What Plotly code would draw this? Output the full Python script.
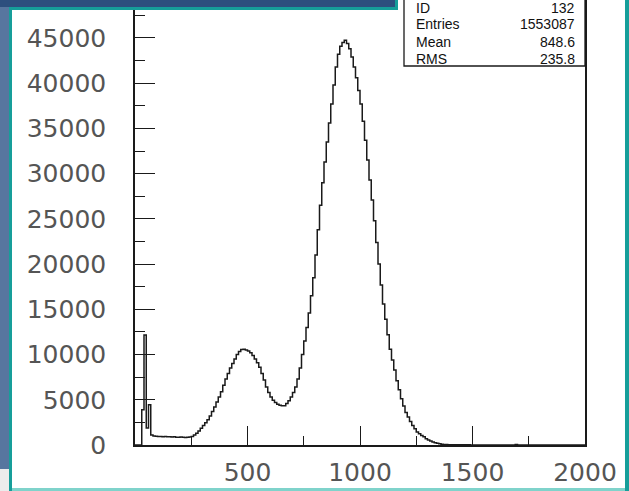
import plotly.graph_objects as go

# ---------------- data ----------------
bin_width = 10
x_min, x_max = 0, 2000
counts = [
    0, 0, 0, 3900, 12170, 1880, 4450, 1100, 1000, 960,
    950, 930, 920, 930, 900, 900, 880, 900, 870, 860,
    880, 860, 840, 860, 880, 950, 1100, 1300, 1550, 1850,
    2150, 2450, 2800, 3200, 3700, 4200, 4750, 5300, 5900, 6600,
    7300, 7900, 8500, 9000, 9500, 10000, 10350, 10550, 10600, 10500,
    10400, 10200, 9900, 9500, 9100, 8600, 7900, 7200, 6400, 5800,
    5300, 4950, 4700, 4500, 4400, 4350, 4350, 4600, 4900, 5300,
    5800, 6400, 7300, 8500, 10000, 11500, 13000, 14600, 16500, 18500,
    21000, 23800, 26500, 29000, 31300, 33500, 35600, 37700, 39800, 41800,
    43200, 44100, 44500, 44750, 44400, 43800, 42900, 41800, 40600, 39200,
    37700, 35800, 33700, 31500, 29300, 27100, 24800, 22400, 20000, 17700,
    15600, 13900, 12200, 10600, 9400, 8300, 7100, 6100, 5100, 4300,
    3600, 3100, 2600, 2150, 1800, 1450, 1250, 1050, 900, 700,
    550, 430, 330, 250, 180, 130, 90, 60, 45, 40,
    35, 35, 30, 35, 30, 30, 35, 30, 25, 0,
    0, 0, 0, 0, 0, 0, 0, 0, 0, 0,
    0, 0, 0, 0, 0, 0, 0, 0, 0, 60,
    0, 0, 0, 0, 0, 0, 0, 0, 0, 0,
    0, 0, 0, 0, 0, 0, 0, 0, 0, 0,
    0, 0, 0, 0, 0, 0, 0, 0, 0, 0,
]
x_tick_vals = [0, 500, 1000, 1500, 2000]
x_tick_text = ["", "500", "1000", "1500", "2000"]
y_tick_vals = [0, 5000, 10000, 15000, 20000, 25000, 30000, 35000, 40000, 45000]
y_tick_text = ["0", "5000", "10000", "15000", "20000", "25000", "30000", "35000", "40000", "45000"]
y_max = 49200
stats_labels = ["ID", "Entries", "Mean", "RMS"]
stats_values = ["132", "1553087", "848.6", "235.8"]

# ---------------- geometry ----------------
FW, FH = 629, 491
L, R, T, B = 135, 44, 0, 46
PW, PH = FW - L - R, FH - T - B


def px(p):
    return (p - L) / PW


def py(p):
    return 1 - (p - T) / PH


edges = [x_min + i * bin_width for i in range(len(counts) + 1)]
xs = edges
ys = counts + [counts[-1]]

fig = go.Figure()
fig.add_trace(go.Scatter(
    x=xs, y=ys, mode="lines", line=dict(shape="hv", color="#1a1a1a", width=1.5),
    hoverinfo="skip", showlegend=False,
))

tick_font = dict(family="DejaVu Sans", size=25, color="#555555")

fig.update_layout(
    width=FW, height=FH,
    margin=dict(l=L, r=R, t=T, b=B, pad=0),
    paper_bgcolor="white", plot_bgcolor="white",
    xaxis=dict(
        range=[x_min, x_max], showgrid=False, zeroline=False,
        showline=True, linecolor="#1a1a1a", linewidth=1.5, mirror=False,
        tickmode="array", tickvals=x_tick_vals, ticktext=x_tick_text,
        ticks="inside", ticklen=19, tickwidth=1.3, tickcolor="#1a1a1a",
        minor=dict(tickmode="linear", tick0=0, dtick=250, ticks="inside",
                   ticklen=9, tickwidth=1.3, tickcolor="#1a1a1a", showgrid=False),
        tickfont=tick_font, ticklabelstandoff=4,
    ),
    yaxis=dict(
        range=[0, y_max], showgrid=False, zeroline=False,
        showline=True, linecolor="#1a1a1a", linewidth=1.5, mirror=True,
        tickmode="array", tickvals=y_tick_vals, ticktext=y_tick_text,
        ticks="inside", ticklen=20, tickwidth=1.3, tickcolor="#1a1a1a",
        minor=dict(tickmode="linear", tick0=0, dtick=2500, ticks="inside",
                   ticklen=10, tickwidth=1.3, tickcolor="#1a1a1a", showgrid=False),
        tickfont=tick_font, ticklabelstandoff=22,
    ),
)

shapes = []
teal = "#169e9a"
# left blue strip
shapes.append(dict(type="rect", xref="paper", yref="paper", x0=px(0), x1=px(9), y0=py(0), y1=py(469),
                   fillcolor="#57769f", line_width=0, layer="above"))
shapes.append(dict(type="rect", xref="paper", yref="paper", x0=px(0), x1=px(9), y0=py(469), y1=py(491),
                   fillcolor="#ececec", line_width=0, layer="above"))
# top banner
shapes.append(dict(type="rect", xref="paper", yref="paper", x0=px(9), x1=px(398), y0=py(0), y1=py(10),
                   fillcolor=teal, line_width=0, layer="above"))
shapes.append(dict(type="rect", xref="paper", yref="paper", x0=px(0), x1=px(395), y0=py(0), y1=py(7),
                   fillcolor="#2d4f7e", line_width=0, layer="above"))
# teal borders
shapes.append(dict(type="rect", xref="paper", yref="paper", x0=px(9), x1=px(12), y0=py(7), y1=py(491),
                   fillcolor=teal, line_width=0, layer="above"))
shapes.append(dict(type="rect", xref="paper", yref="paper", x0=px(625), x1=px(629), y0=py(0), y1=py(491),
                   fillcolor=teal, line_width=0, layer="above"))
shapes.append(dict(type="rect", xref="paper", yref="paper", x0=px(12), x1=px(625), y0=py(488), y1=py(491),
                   fillcolor="#7fd3cb", line_width=0, layer="above"))
# stats box
shapes.append(dict(type="rect", xref="paper", yref="paper", x0=px(404), x1=px(585), y0=py(-2), y1=py(66),
                   fillcolor="white", line=dict(color="#1a1a1a", width=1.3), layer="above"))
fig.update_layout(shapes=shapes)

row_y = [7.5, 24.5, 42, 59.5]
for lab, val, yy in zip(stats_labels, stats_values, row_y):
    fig.add_annotation(xref="paper", yref="paper", x=px(414), y=py(yy), text=lab, showarrow=False,
                       xanchor="left", yanchor="middle",
                       font=dict(family="Liberation Sans", size=14, color="#111"))
    fig.add_annotation(xref="paper", yref="paper", x=px(577), y=py(yy), text=val, showarrow=False,
                       xanchor="right", yanchor="middle",
                       font=dict(family="Liberation Sans", size=14, color="#111"))

fig.write_html("out.html")
